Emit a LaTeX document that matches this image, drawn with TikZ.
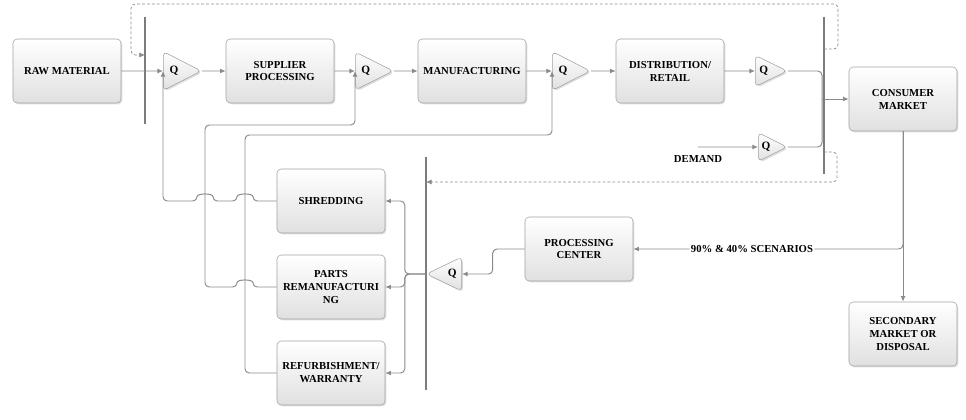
\documentclass[tikz,border=0pt]{standalone}
\usepackage{fontspec}
\setmainfont{Liberation Serif}
\usetikzlibrary{positioning,shapes.geometric,arrows.meta,shadows}
\definecolor{flowgray}{HTML}{8A8A8A}
\definecolor{bargray}{HTML}{7C7C7C}
\definecolor{boxedge}{HTML}{A3A3A3}
\definecolor{boxfill}{HTML}{E0E0E0}

\begin{document}
\begin{tikzpicture}[x=0.025cm,y=-0.025cm,
    stage/.style={draw=boxedge,rounded corners=3pt,top color=white,bottom color=boxfill,
      drop shadow={shadow xshift=1pt,shadow yshift=-1pt,opacity=0.25},
      minimum width=2.7cm,minimum height=1.6cm,inner sep=1pt,align=center,
      font=\bfseries\fontsize{7.6}{9.2}\selectfont},
    queue/.style={isosceles triangle,isosceles triangle stretches,draw=boxedge,
      rounded corners=3pt,top color=white,bottom color=boxfill,inner sep=0pt,
      drop shadow={shadow xshift=1pt,shadow yshift=-1pt,opacity=0.25},
      font=\bfseries\fontsize{8}{9}\selectfont},
    flow/.style={draw=flowgray,line width=0.7pt,rounded corners=3pt,
      -{Latex[length=4pt,width=3.5pt]}},
    link/.style={draw=flowgray,line width=0.7pt,rounded corners=3pt},
    bar/.style={draw=bargray,line width=0.8pt},
    loop/.style={draw=flowgray,line width=0.5pt,dash pattern=on 2pt off 1.5pt,
      rounded corners=3pt,-{Latex[length=4pt,width=3.5pt]}},
    tag/.style={font=\bfseries\fontsize{7.6}{9.2}\selectfont,inner sep=1pt}]
    \useasboundingbox (0,0) rectangle (966,420);

    % forward chain
    \node[stage] (raw) at (67,71) {RAW MATERIAL};
    \node[stage] (supplier) at (280,71) {SUPPLIER\\PROCESSING};
    \node[stage] (manuf) at (472,71) {MANUFACTURING};
    \node[stage] (distrib) at (670,71) {DISTRIBUTION/\\RETAIL};
    \node[stage] (market) at (903,99) {CONSUMER\\MARKET};
    \node[stage] (secondary) at (903,334) {SECONDARY\\MARKET OR\\DISPOSAL};
    \node[queue,minimum width=0.97cm,minimum height=0.95cm,anchor=west] (q1) at (163,71) {Q};
    \node[queue,minimum width=0.95cm,minimum height=0.95cm,anchor=west] (q2) at (355,71) {Q};
    \node[queue,minimum width=0.97cm,minimum height=0.95cm,anchor=west] (q3) at (552,71) {Q};
    \node[queue,minimum width=0.78cm,minimum height=0.8cm,anchor=west] (q4) at (755,71) {Q};
    \node[queue,minimum width=0.72cm,minimum height=0.72cm,anchor=west] (q5) at (758,147) {Q};

    % reverse chain
    \node[stage] (proc) at (579,249) {PROCESSING\\CENTER};
    \node[stage] (shred) at (331,201) {SHREDDING};
    \node[stage] (parts) at (331,287) {PARTS\\REMANUFACTURI\\NG};
    \node[stage] (refurb) at (331,373) {REFURBISHMENT/\\WARRANTY};
    \node[queue,shape border rotate=180,minimum width=0.85cm,minimum height=0.88cm,
      anchor=east] (q6) at (462,274) {Q};

    % collecting bars
    \draw[bar] (145,17) -- (145,124);
    \draw[bar] (824,17) -- (824,174);
    \draw[bar] (426,157) -- (426,390);

    \foreach \a/\b in {raw/q1,q1/supplier,supplier/q2,q2/manuf,manuf/q3,q3/distrib,distrib/q4}
      \draw[flow] (\a) -- (\b);

    % demand and merge into market
    \coordinate (demand) at (698,147);
    \coordinate (merge) at (822,99);
    \draw[flow] (demand) -- (q5);
    \node[tag] (demandtag) at (698,159) {DEMAND};
    \draw[link] (q4.east) -| (merge);
    \draw[link] (q5.east) -| (merge);
    \draw[flow] (merge) -- (market);

    % market outflows
    \draw[flow] (market) -- (secondary);
    \draw[flow] (market.south) |- node[tag,pos=0.78,fill=white] (scenarios)
      {90\% \& 40\% SCENARIOS} (proc.east);

    % into the recovery options
    \draw[flow] (proc.west) -- ++(-32,0) |- (q6.east);
    \foreach \t in {shred,parts,refurb}
      \draw[flow] (q6.west) -- ++(-21,0) |- (\t.east);

    % back into the forward chain (with line jumps)
    \draw[flow] (shred.west) -- (253,201) .. controls (253,193) and (237,193) .. (237,201)
      -- (213,201) .. controls (213,193) and (197,193) .. (197,201) -| (q1.west);
    \draw[flow] (parts.west) -- (253,287) .. controls (253,279) and (237,279) .. (237,287)
      -| (205,125) -| (q2.west);
    \draw[flow] (refurb.west) -| (245,135) -| (q3.west);

    % dashed feedback
    \coordinate (loopout) at (824,49);
    \coordinate (loopin) at (145,55);
    \coordinate (backout) at (824,152);
    \coordinate (backin) at (426,182);
    \draw[loop] (loopout) -| (838,4) -| (131,55) -- (loopin);
    \draw[loop] (backout) -| (837,182) -- (backin);
  \end{tikzpicture}
\end{document}
